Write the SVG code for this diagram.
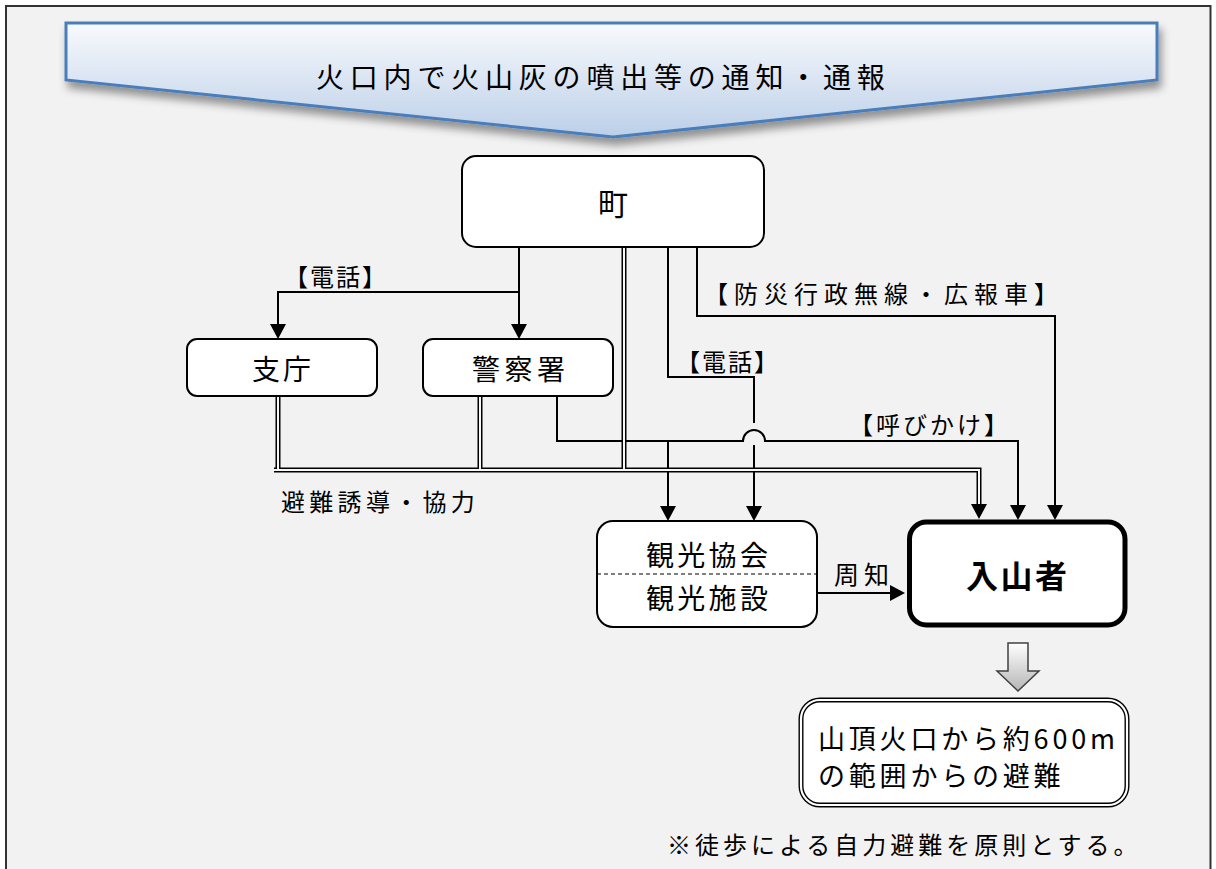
<svg xmlns="http://www.w3.org/2000/svg" width="1216" height="869" viewBox="0 0 1216 869">
<style>
text{font-family:'Noto Sans CJK JP','Noto Sans',sans-serif;fill:#000;dominant-baseline:central;font-weight:400}
text.b{font-weight:700}
.box{fill:#fff;stroke:#000;stroke-width:2}
.ln{fill:none;stroke:#000;stroke-width:2}
.arr{marker-end:url(#ah)}
.dbo{fill:none;stroke:#000;stroke-width:5}
.dbi{fill:none;stroke:#f8f8f8;stroke-width:2}
.lbl{font-size:24px}
.nd{font-size:28px}
</style>
<defs>
<marker id="ah" markerUnits="userSpaceOnUse" markerWidth="15" markerHeight="16" viewBox="0 0 15 16" refX="0" refY="8" orient="auto">
<path d="M0,0 L15,8 L0,16 z" fill="#000"/>
</marker>
<linearGradient id="bg" x1="0" y1="0" x2="0" y2="1">
<stop offset="0" stop-color="#f8fafd"/>
<stop offset="1" stop-color="#bccfe8"/>
</linearGradient>
<linearGradient id="ag" x1="0" y1="0" x2="0" y2="1">
<stop offset="0" stop-color="#ffffff"/>
<stop offset="1" stop-color="#b5b5b5"/>
</linearGradient>
<filter id="sh" x="-5%" y="-20%" width="110%" height="160%">
<feDropShadow dx="3" dy="7" stdDeviation="4" flood-color="#000" flood-opacity="0.4"/>
</filter>
</defs>
<rect x="0" y="0" width="1216" height="869" fill="#fff"/>
<rect x="6" y="6" width="1204.5" height="880" fill="#f2f2f2" stroke="#333" stroke-width="2"/>

<g id="banner">
<polygon points="66,23 1157,23 1157,80 613,137 66,80" fill="url(#bg)" stroke="#4a7ebb" stroke-width="3" filter="url(#sh)"/>
<text x="316" y="76" font-size="28" letter-spacing="5.8">火口内で火山灰の噴出等の通知・通報</text>
</g>

<g id="connectors">
<path class="ln arr" d="M519,247 V324"/>
<path class="ln arr" d="M519,292 H278 V324"/>
<path class="ln arr" d="M697,247 V316 H1055 V505"/>
<path class="ln" d="M668,247 V377 H754 V423"/>
<path class="ln arr" d="M754,445 V506"/>
<path class="ln arr" d="M557,396 V441 H743 A11,11 0 0 1 765,441 H1018 V505"/>
<path class="ln arr" d="M668,441 V506"/>
<path class="ln arr" d="M817,593 H890"/>
<g id="double">
<path class="dbo" d="M278,396 V470"/>
<path class="dbo" d="M480,396 V470"/>
<path class="dbo" d="M624,247 V470"/>
<path class="dbo arr" d="M274,470 H979 V504"/>
<path class="dbi" d="M278,396 V470"/>
<path class="dbi" d="M480,396 V470"/>
<path class="dbi" d="M624,247 V470"/>
<path class="dbi" d="M274,470 H979 V504"/>
</g>
<text class="lbl" x="284" y="275" letter-spacing="2">【電話】</text>
<text class="lbl" x="704" y="292" letter-spacing="6">【防災行政無線・広報車】</text>
<text class="lbl" x="676" y="360" letter-spacing="2">【電話】</text>
<text class="lbl" x="849" y="423" letter-spacing="3">【呼びかけ】</text>
<text class="lbl" x="281" y="500" letter-spacing="4.3">避難誘導・協力</text>
<text x="834" y="573" font-size="25" letter-spacing="5">周知</text>
</g>

<g id="node-machi">
<rect class="box" x="462" y="156" width="302" height="91" rx="14"/>
<text x="613" y="202" font-size="30" text-anchor="middle">町</text>
</g>
<g id="node-shicho">
<rect class="box" x="187" y="339" width="190" height="57" rx="10"/>
<text class="nd" x="252" y="368" letter-spacing="3">支庁</text>
</g>
<g id="node-keisatsu">
<rect class="box" x="423" y="339" width="190" height="57" rx="10"/>
<text class="nd" x="472" y="368" letter-spacing="4.5">警察署</text>
</g>
<g id="node-kanko">
<rect class="box" x="597" y="521" width="220" height="106" rx="16"/>
<line x1="597" y1="574" x2="817" y2="574" stroke="#000" stroke-width="1.2" stroke-dasharray="4,3"/>
<text class="nd" x="646" y="554" letter-spacing="3.3">観光協会</text>
<text class="nd" x="646" y="597" letter-spacing="3.3">観光施設</text>
</g>
<g id="node-nyuzan">
<rect x="909.5" y="522" width="215.5" height="103" rx="17" fill="#fff" stroke="#000" stroke-width="5"/>
<text class="b" x="966" y="574" font-size="32" letter-spacing="2.5">入山者</text>
</g>
<g id="block-arrow">
<polygon points="1008,643 1028,643 1028,671 1039,671 1018,691 997,671 1008,671" fill="url(#ag)" stroke="#404040" stroke-width="1.5"/>
</g>
<g id="node-hinan">
<rect x="801" y="700" width="326" height="105" rx="19" fill="#fff" stroke="#000" stroke-width="5"/>
<rect x="801" y="700" width="326" height="105" rx="19" fill="none" stroke="#fff" stroke-width="2.2"/>
<text x="818" y="737" font-size="27" letter-spacing="3.8">山頂火口から約600m</text>
<text x="818" y="774" font-size="27" letter-spacing="3.8">の範囲からの避難</text>
</g>
<text id="note" x="667" y="843" font-size="24" letter-spacing="4">※徒歩による自力避難を原則とする。</text>
</svg>
